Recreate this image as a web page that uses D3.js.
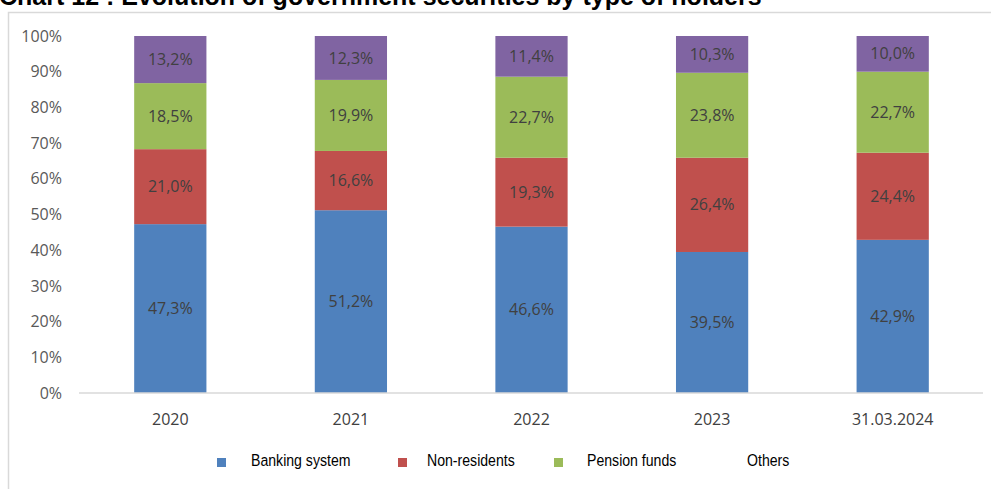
<!DOCTYPE html>
<html>
<head>
<meta charset="utf-8">
<script src="https://cdn.jsdelivr.net/npm/d3@7"></script>
<style>
  html, body { margin: 0; padding: 0; background: #fff; }
  svg { display: block; }
</style>
</head>
<body>
<svg id="chart" width="991" height="489"></svg>
<script>
// Holders of government securities, share of total (%)
const categories = ["2020", "2021", "2022", "2023", "31.03.2024"];
const seriesNames = ["Banking system", "Non-residents", "Pension funds", "Others"];
const bankingSystem = [47.3, 51.2, 46.6, 39.5, 42.9];
const nonResidents  = [21.0, 16.6, 19.3, 26.4, 24.4];
const pensionFunds  = [18.5, 19.9, 22.7, 23.8, 22.7];
const others        = [13.2, 12.3, 11.4, 10.3, 10.0];
const yTicks = [0, 10, 20, 30, 40, 50, 60, 70, 80, 90, 100];
const colors = ["#4F81BD", "#C0504D", "#9BBB59", "#8064A2"];

const rows = categories.map((c, i) => ({
  category: c,
  "Banking system": bankingSystem[i],
  "Non-residents": nonResidents[i],
  "Pension funds": pensionFunds[i],
  "Others": others[i]
}));

const svg = d3.select("#chart");
const fmt = v => v.toFixed(1).replace(".", ",") + "%";

// Title (sits above the framed chart area)
svg.append("text")
  .attr("x", -1).attr("y", 5)
  .attr("font-family", "Liberation Sans, Arial, sans-serif")
  .attr("font-weight", "bold")
  .attr("font-size", 25)
  .attr("fill", "#000")
  .text("Chart 12 : Evolution of government securities by type of holders");

// Chart frame
svg.append("rect")
  .attr("x", 8.5).attr("y", 12.5)
  .attr("width", 1000).attr("height", 500)
  .attr("fill", "none")
  .attr("stroke", "#D9D9D9")
  .attr("stroke-width", 1.5);

const x = d3.scaleBand().domain(categories).range([80, 983]).paddingInner(0.6).paddingOuter(0.3);
const y = d3.scaleLinear().domain([0, 100]).range([393, 36]);

const stack = d3.stack().keys(seriesNames);
const layers = stack(rows);

const labelFont = "Open Sans, Lato, sans-serif";

const g = svg.append("g");
layers.forEach((layer, k) => {
  const lg = g.append("g").attr("fill", colors[k]);
  lg.selectAll("rect").data(layer).join("rect")
    .attr("x", d => x(d.data.category))
    .attr("y", d => y(d[1]))
    .attr("width", x.bandwidth())
    .attr("height", d => y(d[0]) - y(d[1]));
  g.append("g").selectAll("text").data(layer).join("text")
    .attr("x", d => x(d.data.category) + x.bandwidth() / 2)
    .attr("y", d => y((d[0] + d[1]) / 2))
    .attr("dy", "0.35em")
    .attr("text-anchor", "middle")
    .attr("font-family", labelFont)
    .attr("font-size", 16)
    .attr("fill", "#404040")
    .text(d => fmt(d.data[seriesNames[k]]));
});

// Y axis (labels only)
const yAxis = d3.axisLeft(y).tickValues(yTicks).tickFormat(d => d + "%").tickSize(0).tickPadding(0);
const ya = svg.append("g").attr("transform", "translate(62,0)").call(yAxis);
ya.select(".domain").remove();
ya.selectAll("text")
  .attr("font-family", labelFont)
  .attr("font-size", 16)
  .attr("fill", "#595959");

// X axis
const xAxis = d3.axisBottom(x).tickSize(0).tickPadding(21);
const xa = svg.append("g").attr("transform", "translate(0,393)").call(xAxis);
xa.select(".domain").attr("stroke", "#D9D9D9").attr("stroke-width", 1.5).attr("d", "M79,0H983");
xa.selectAll("text")
  .attr("font-family", labelFont)
  .attr("font-size", 16)
  .attr("fill", "#404040");

// Legend (condensed sans text)
const legendMarkX = [217, 398, 554, 720];
const legendTextX = [251, 427, 587, 747];
const legend = svg.append("g");
seriesNames.forEach((name, i) => {
  if (i < 3) {
    legend.append("rect")
      .attr("x", legendMarkX[i]).attr("y", 458)
      .attr("width", 9).attr("height", 9)
      .attr("fill", colors[i]);
  }
  legend.append("text")
    .attr("transform", `translate(${legendTextX[i]},466) scale(0.83,1)`)
    .attr("font-family", "Liberation Sans, Arial, sans-serif")
    .attr("font-size", 17)
    .attr("fill", "#000")
    .text(name);
});
</script>
</body>
</html>
